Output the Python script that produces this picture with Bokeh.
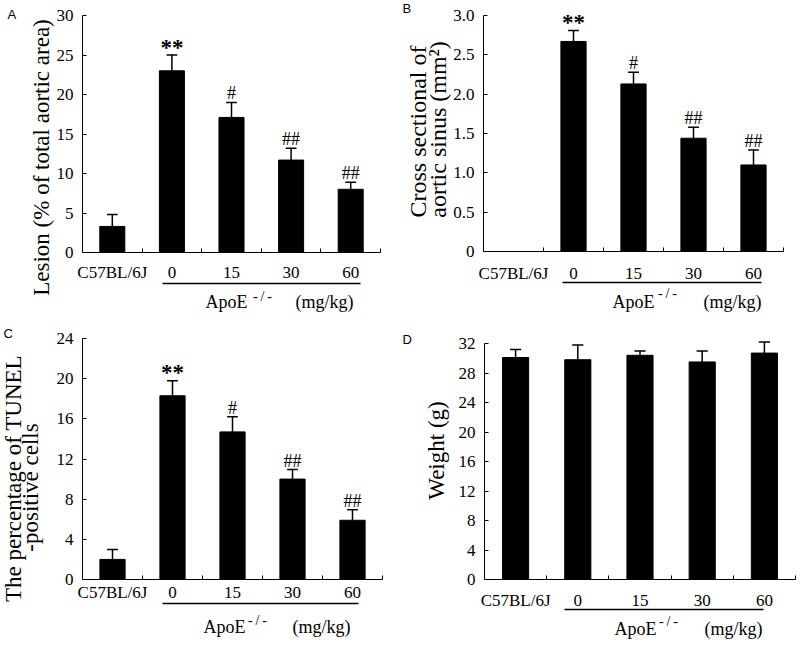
import math
from bokeh.plotting import figure
from bokeh.layouts import gridplot
from bokeh.models import FixedTicker, Label, Range1d
from bokeh.embed import file_html
from bokeh.resources import INLINE

# ---------------- data ----------------
groups = ["C57BL/6J", "0", "15", "30", "60"]

lesion = [3.3, 23.0, 17.1, 11.7, 8.0]
lesion_err = [1.5, 2.0, 1.9, 1.5, 0.9]
lesion_marks = ["", "**", "#", "##", "##"]
lesion_ticks = [0, 5, 10, 15, 20, 25, 30]
lesion_tick_labels = ["0", "5", "10", "15", "20", "25", "30"]

sinus = [0.0, 2.67, 2.13, 1.44, 1.10]
sinus_err = [0.0, 0.14, 0.15, 0.14, 0.19]
sinus_marks = ["", "**", "#", "##", "##"]
sinus_ticks = [0, 0.5, 1.0, 1.5, 2.0, 2.5, 3.0]
sinus_tick_labels = ["0", "0.5", "1.0", "1.5", "2.0", "2.5", "3.0"]

tunel = [2.0, 18.3, 14.7, 10.0, 5.9]
tunel_err = [1.0, 1.5, 1.5, 0.95, 1.05]
tunel_marks = ["", "**", "#", "##", "##"]
tunel_ticks = [0, 4, 8, 12, 16, 20, 24]
tunel_tick_labels = ["0", "4", "8", "12", "16", "20", "24"]

weight = [30.1, 29.8, 30.4, 29.5, 30.7]
weight_err = [1.1, 2.0, 0.6, 1.5, 1.5]
weight_marks = ["", "", "", "", ""]
weight_ticks = [0, 4, 8, 12, 16, 20, 24, 28, 32]
weight_tick_labels = ["0", "4", "8", "12", "16", "20", "24", "28", "32"]

SERIF = "Liberation Serif"
SANS = "Liberation Sans"


def make_panel(vals, errs, marks, yticks, ytick_text, canvas, axes, cat_standoff,
               ytitles, apoe, letter):
    # canvas: page box of this figure; axes: page pixels of x=0, x=5, y=0, y=top tick
    cx0, cy0, cw, ch = canvas
    ax0, ax5, ay0, aytop = axes
    ytop = yticks[-1]
    sx = 5.0 / (ax5 - ax0)
    sy = ytop / (ay0 - aytop)

    def X(px):
        return (px - ax0) * sx

    def Y(py):
        return (ay0 - py) * sy

    p = figure(width=cw, height=ch, min_border=0,
               x_range=Range1d(X(cx0), X(cx0 + cw)),
               y_range=Range1d(Y(cy0 + ch), Y(cy0)),
               output_backend="svg", toolbar_location=None, tools="")
    p.outline_line_color = None
    p.xgrid.visible = False
    p.ygrid.visible = False
    p.background_fill_color = "white"
    p.border_fill_color = "white"

    xs = [i + 0.5 for i in range(len(groups))]
    xa = p.xaxis[0]
    xa.fixed_location = 0
    xa.bounds = (0, 5)
    xa.ticker = FixedTicker(ticks=xs, minor_ticks=[1, 2, 3, 4, 5])
    xa.major_label_overrides = {x: g for x, g in zip(xs, groups)}
    xa.major_tick_line_color = None
    xa.major_tick_in = 0
    xa.major_tick_out = 0
    xa.minor_tick_in = 4
    xa.minor_tick_out = 0
    xa.minor_tick_line_color = "black"
    xa.axis_line_color = "black"
    xa.major_label_text_font = SERIF
    xa.major_label_text_font_size = "17px"
    xa.major_label_text_color = "black"
    xa.major_label_standoff = cat_standoff

    ya = p.yaxis[0]
    ya.fixed_location = 0
    ya.bounds = (0, ytop)
    ya.ticker = FixedTicker(ticks=yticks)
    ya.major_label_overrides = {t: s for t, s in zip(yticks, ytick_text)}
    ya.major_tick_in = 4
    ya.major_tick_out = 0
    ya.minor_tick_line_color = None
    ya.major_tick_line_color = "black"
    ya.axis_line_color = "black"
    ya.major_label_text_font = SERIF
    ya.major_label_text_font_size = "17px"
    ya.major_label_text_color = "black"
    ya.major_label_standoff = 9

    bx = [x for x, v in zip(xs, vals) if v > 0]
    bv = [v for v in vals if v > 0]
    be = [e for v, e in zip(vals, errs) if v > 0]
    btop = [v + e for v, e in zip(bv, be)]
    p.vbar(x=bx, top=bv, bottom=0, width=0.42, fill_color="black", line_color="black")
    p.segment(x0=bx, y0=bv, x1=bx, y1=btop, line_color="black", line_width=1.5)
    p.segment(x0=[x - 0.09 for x in bx], y0=btop, x1=[x + 0.09 for x in bx], y1=btop,
              line_color="black", line_width=1.5)

    # significance marks, centred a few pixels above each error cap
    for x, v, e, m in zip(xs, vals, errs, marks):
        if not m:
            continue
        star = m.startswith("*")
        gap = 8 if star else 9
        p.add_layout(Label(x=x, y=v + e + gap * sy, text=m, text_align="center",
                           text_baseline="middle",
                           text_font=SERIF,
                           text_font_size="23px" if star else "18px",
                           text_font_style="bold" if star else "normal",
                           text_color="black"))

    # y axis titles (page positions of text centres)
    for txt, px, py, fs in ytitles:
        p.add_layout(Label(x=X(px), y=Y(py), text=txt, angle=math.pi / 2,
                           text_align="center", text_baseline="middle",
                           text_font=SERIF, text_font_size=f"{fs}px",
                           text_color="black"))

    # ApoE group line and caption (page positions of text centres)
    lx0, lx1, ly, tx_apoe, tx_sup, tx_mg, ty, tys = apoe
    p.line(x=[X(lx0), X(lx1)], y=[Y(ly), Y(ly)], line_color="black", line_width=1.3)
    p.add_layout(Label(x=X(tx_apoe), y=Y(ty), text="ApoE",
                       text_align="center", text_baseline="middle",
                       text_font=SERIF, text_font_size="18px", text_color="black"))
    p.add_layout(Label(x=X(tx_sup), y=Y(tys), text="-\u2009/\u2009-",
                       text_align="center", text_baseline="middle",
                       text_font=SERIF, text_font_size="14px", text_color="black"))
    p.add_layout(Label(x=X(tx_mg), y=Y(ty), text="(mg/kg)",
                       text_align="center", text_baseline="middle",
                       text_font=SERIF, text_font_size="18px", text_color="black"))

    lt, lpx, lpy = letter
    p.add_layout(Label(x=X(lpx), y=Y(lpy), text=lt,
                       text_align="left", text_baseline="top",
                       text_font=SANS, text_font_size="13px", text_color="black"))
    return p


pA = make_panel(lesion, lesion_err, lesion_marks, lesion_ticks, lesion_tick_labels,
                (0, 0, 400, 318), (82, 380, 252, 15), 10,
                [("Lesion (% of total aortic area)", 41, 157, 23)],
                (162, 360, 283, 226, 262, 324, 301, 296),
                ("A", 7, 6))
pB = make_panel(sinus, sinus_err, sinus_marks, sinus_ticks, sinus_tick_labels,
                (400, 0, 400, 318), (483, 783, 251, 15), 12,
                [("Cross sectional of", 417, 131, 24), ("aortic sinus (mm\u00b2)", 437, 129, 24)],
                (562, 761, 282, 633, 667, 732, 301, 293),
                ("B", 402, 0))
pC = make_panel(tunel, tunel_err, tunel_marks, tunel_ticks, tunel_tick_labels,
                (0, 318, 400, 328), (82, 382, 579, 338), 3,
                [("The percentage of TUNEL", 13, 478, 23), ("-positive cells", 30, 487, 23)],
                (162, 358, 603, 224, 257, 321, 626, 620),
                ("C", 3, 325))
pD = make_panel(weight, weight_err, weight_marks, weight_ticks, weight_tick_labels,
                (400, 318, 400, 328), (484, 795, 579, 343), 11,
                [("Weight (g)", 436, 450, 23)],
                (564, 763, 609, 635, 668, 733, 628, 621),
                ("D", 402, 331))

grid = gridplot([[pA, pB], [pC, pD]], toolbar_location=None)

open("out.html", "w").write(file_html(grid, INLINE))
